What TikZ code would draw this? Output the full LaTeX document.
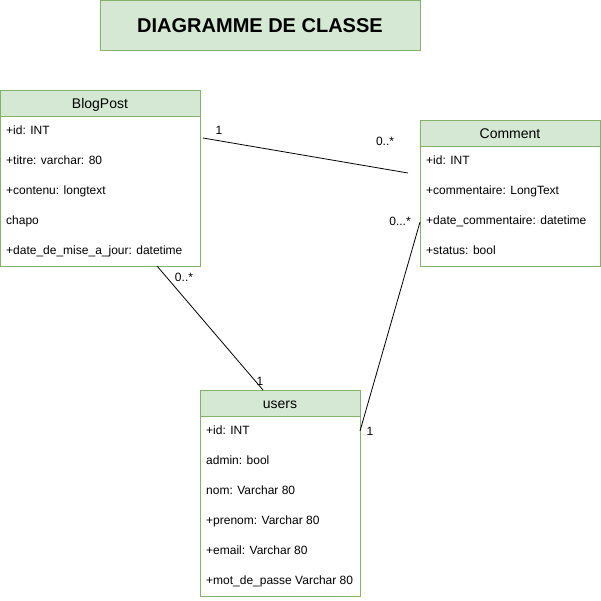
\documentclass[tikz,border=0pt]{standalone}
\usepackage{fontspec}
\setmainfont{Liberation Sans}
\definecolor{gfill}{HTML}{D5E8D4}
\definecolor{gline}{HTML}{82B366}
\begin{document}
\begin{tikzpicture}[x=1pt,y=-1pt,
  hdr/.style={draw=gline,fill=gfill,line width=0.9pt,inner sep=0pt,outer sep=0pt,anchor=north west,text height=10pt,text depth=0pt,font=\fontsize{14}{16}\selectfont},
  body/.style={draw=gline,fill=white,line width=0.9pt,inner sep=0pt,outer sep=0pt,anchor=north west},
  row/.style={anchor=west,inner sep=0pt,text height=8.6pt,text depth=0pt,font=\fontsize{12}{14}\selectfont},
  mult/.style={inner sep=0pt,text height=8.6pt,text depth=0pt,font=\fontsize{12}{14}\selectfont},
  conn/.style={draw=black,line width=0.8pt}]
\useasboundingbox (0,0) rectangle (601,600);
% title
\node[hdr,minimum width=320,minimum height=50,text height=14.3pt,font=\fontsize{20}{24}\selectfont\bfseries] (title) at (100,0) {DIAGRAMME DE CLASSE};
% BlogPost
\node[hdr,minimum width=200,minimum height=26] (bp) at (0,90) {BlogPost};
\node[body,minimum width=200,minimum height=150] (bpb) at (0,116) {};
\node[row] (bp1) at (6,130) {+id: INT};
\node[row] (bp2) at (6,160) {+titre: varchar: 80};
\node[row] (bp3) at (6,190) {+contenu: longtext};
\node[row] (bp4) at (6,220) {chapo};
\node[row] (bp5) at (6,250) {+date\_de\_mise\_a\_jour: datetime};
% Comment
\node[hdr,minimum width=180,minimum height=26] (cm) at (420,120) {Comment};
\node[body,minimum width=180,minimum height=120] (cmb) at (420,146) {};
\node[row] (cm1) at (426,160) {+id: INT};
\node[row] (cm2) at (426,190) {+commentaire: LongText};
\node[row] (cm3) at (426,220) {+date\_commentaire: datetime};
\node[row] (cm4) at (426,250) {+status: bool};
% users
\node[hdr,minimum width=160,minimum height=26] (us) at (200,390) {users};
\node[body,minimum width=160,minimum height=180] (usb) at (200,416) {};
\node[row] (us1) at (206,430) {+id: INT};
\node[row] (us2) at (206,460) {admin: bool};
\node[row] (us3) at (206,490) {nom: Varchar 80};
\node[row] (us4) at (206,520) {+prenom: Varchar 80};
\node[row] (us5) at (206,550) {+email: Varchar 80};
\node[row] (us6) at (206,580) {+mot\_de\_passe Varchar 80};
% connector end points
\coordinate (a1) at ([xshift=3pt,yshift=-48pt]bp.north east);
\coordinate (a2) at ([xshift=-12pt,yshift=-53pt]cm.north west);
\coordinate (b1) at ([xshift=-43pt]bpb.south east);
\coordinate (b2) at ([xshift=-17pt]us.north);
\coordinate (c1) at ([yshift=-15pt]usb.north east);
\coordinate (c2) at ([yshift=-76pt]cmb.north west);
\draw[conn] (a1) -- (a2);
\draw[conn] (b1) -- (b2);
\draw[conn] (c1) -- (c2);
% multiplicities
\node[mult] (m1) at (219,130) {1};
\node[mult] (m2) at (385,141) {0..*};
\node[mult] (m3) at (184,277) {0..*};
\node[mult] (m4) at (260,381) {1};
\node[mult] (m5) at (400,221) {0...*};
\node[mult] (m6) at (370,431) {1};
\end{tikzpicture}
\end{document}
